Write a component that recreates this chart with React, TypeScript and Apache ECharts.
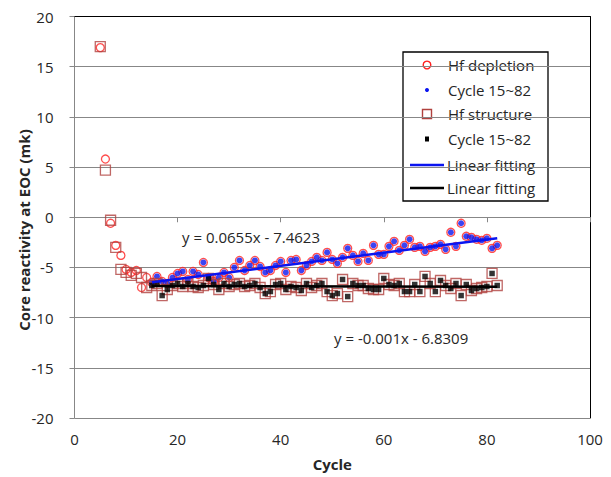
import React, { useEffect, useRef } from "react";
import * as echarts from "echarts";

// ---- data ----
const cycles = [
  5, 6, 7, 8, 9, 10, 11, 12, 13, 14, 15, 16, 17, 18, 19, 20, 21, 22, 23, 24,
  25, 26, 27, 28, 29, 30, 31, 32, 33, 34, 35, 36, 37, 38, 39, 40, 41, 42, 43, 44,
  45, 46, 47, 48, 49, 50, 51, 52, 53, 54, 55, 56, 57, 58, 59, 60, 61, 62, 63, 64,
  65, 66, 67, 68, 69, 70, 71, 72, 73, 74, 75, 76, 77, 78, 79, 80, 81, 82,
];
const hfDepletion = [
  16.9, 5.8, -0.6, -2.8, -3.8, -5.2, -5.5, -5.3, -7.0, -6.0, -6.5, -5.9, -6.4, -6.6, -6.0, -5.6, -5.4, -6.2, -5.4, -5.7,
  -4.5, -6.0, -6.4, -6.0, -5.5, -6.0, -5.0, -4.3, -5.3, -4.8, -4.3, -4.9, -5.5, -5.3, -4.8, -4.4, -5.5, -4.3, -4.2, -5.3,
  -4.8, -4.4, -4.0, -4.3, -3.5, -4.2, -4.6, -4.0, -3.1, -3.8, -4.4, -3.6, -4.3, -2.8, -3.7, -3.7, -2.9, -2.4, -3.3, -2.8,
  -2.2, -3.0, -2.9, -3.4, -3.0, -2.9, -2.7, -3.2, -1.5, -2.9, -0.6, -1.9, -2.0, -2.2, -2.3, -2.1, -3.1, -2.8,
];
const hfStructure = [
  17.0, 4.7, -0.3, -3.0, -5.2, -5.5, -5.8, -5.6, -6.0, -7.0, -6.8, -6.6, -7.8, -7.2, -6.8, -6.6, -6.9, -6.6, -6.9, -7.0,
  -6.8, -6.1, -6.7, -7.2, -6.6, -6.9, -6.7, -6.6, -6.9, -6.8, -6.6, -7.0, -7.6, -7.4, -6.7, -6.6, -7.2, -6.9, -7.0, -7.3,
  -6.6, -7.0, -6.8, -6.6, -7.4, -7.8, -7.6, -6.2, -7.9, -6.6, -6.8, -6.8, -7.1, -7.2, -7.2, -6.1, -6.7, -6.8, -6.6, -7.4,
  -7.4, -6.7, -7.4, -5.9, -6.6, -7.4, -6.3, -6.8, -7.1, -6.6, -7.8, -6.7, -7.3, -7.1, -7.0, -6.9, -5.6, -6.8,
];
const fitRange = [15, 82];
const fitSlopes = [0.0655, -0.001];
const fitIntercepts = [-7.4623, -6.8309];
const fitLabels = ["y = 0.0655x - 7.4623", "y = -0.001x - 6.8309"];
const legendLabels = [
  "Hf depletion",
  "Cycle 15~82",
  "Hf structure",
  "Cycle 15~82",
  "Linear fitting",
  "Linear fitting",
];
const xTickLabels = ["0", "20", "40", "60", "80", "100"];
const yTickLabels = ["-20", "-15", "-10", "-5", "0", "5", "10", "15", "20"];

const FONT = '"Open Sans", "Liberation Sans", sans-serif';
const TEXT = "#262626";
const AXIS = "#878787";
const RED = "#FF2020";
const BROWN = "#B0413E";
const BLUE = "#0A14F0";
const FS = 15;

export default function App() {
  const ref = useRef<HTMLDivElement>(null);

  useEffect(() => {
    if (!ref.current) return;
    const chart = echarts.init(ref.current, null, { renderer: "svg" });

    const depletionPts = cycles.map((c, i) => [c, hfDepletion[i]]);
    const structurePts = cycles.map((c, i) => [c, hfStructure[i]]);
    const depletionFit = depletionPts.filter((p) => p[0] >= fitRange[0] && p[0] <= fitRange[1]);
    const structureFit = structurePts.filter((p) => p[0] >= fitRange[0] && p[0] <= fitRange[1]);
    const fitLine = (k: number) =>
      fitRange.map((x) => [x, fitSlopes[k] * x + fitIntercepts[k]]);

    const xMin = Number(xTickLabels[0]);
    const xMax = Number(xTickLabels[xTickLabels.length - 1]);
    const yMin = Number(yTickLabels[0]);
    const yMax = Number(yTickLabels[yTickLabels.length - 1]);

    // legend (drawn as graphic)
    const lx = 403;
    const ly = 52;
    const rowY = [13, 38, 62, 87, 113, 136];
    const iconX = 24;
    const textX = 45;
    const legendChildren: any[] = [
      {
        type: "rect",
        shape: { x: 0, y: 0, width: 145, height: 149 },
        style: { fill: "#fff", stroke: "#000", lineWidth: 1.3 },
      },
      {
        type: "circle",
        shape: { cx: iconX, cy: rowY[0], r: 3.8 },
        style: { fill: "#fff", stroke: RED, lineWidth: 1.4 },
      },
      {
        type: "circle",
        shape: { cx: iconX, cy: rowY[1], r: 2 },
        style: { fill: BLUE },
      },
      {
        type: "rect",
        shape: { x: iconX - 4.5, y: rowY[2] - 4.5, width: 9, height: 9 },
        style: { fill: "#fff", stroke: BROWN, lineWidth: 1.4 },
      },
      {
        type: "rect",
        shape: { x: iconX - 2, y: rowY[3] - 2.5, width: 4, height: 5 },
        style: { fill: "#000" },
      },
      {
        type: "line",
        shape: { x1: 7, y1: rowY[4], x2: 41, y2: rowY[4] },
        style: { stroke: BLUE, lineWidth: 2.5 },
      },
      {
        type: "line",
        shape: { x1: 7, y1: rowY[5], x2: 41, y2: rowY[5] },
        style: { stroke: "#000", lineWidth: 2.5 },
      },
    ];
    legendLabels.forEach((t, i) => {
      legendChildren.push({
        type: "text",
        x: i >= 4 ? textX - 1 : textX,
        y: rowY[i],
        style: {
          text: t,
          fill: TEXT,
          fontSize: FS,
          fontFamily: FONT,
          align: "left",
          verticalAlign: "middle",
        },
      });
    });

    const option: any = {
      animation: false,
      backgroundColor: "#fff",
      grid: { left: 74.5, top: 16.5, right: 21, bottom: 59, containLabel: false },
      xAxis: [
        {
          type: "value",
          min: xMin,
          max: xMax,
          interval: 20,
          name: "Cycle",
          nameLocation: "middle",
          nameGap: 38,
          nameTextStyle: { fontFamily: FONT, fontSize: FS, fontWeight: "bold", color: TEXT },
          axisLine: { show: true, lineStyle: { color: AXIS, width: 1 } },
          axisTick: { show: true, length: 5, lineStyle: { color: AXIS } },
          axisLabel: { margin: 13, fontFamily: FONT, fontSize: FS, color: TEXT },
          splitLine: { show: false },
        },
        {
          type: "value",
          position: "top",
          min: xMin,
          max: xMax,
          interval: 20,
          axisLine: { show: true, onZero: false, lineStyle: { color: "#000", width: 1 } },
          axisTick: { show: false },
          axisLabel: { show: false },
          splitLine: { show: false },
        },
      ],
      yAxis: [
        {
          type: "value",
          min: yMin,
          max: yMax,
          interval: 5,
          axisLine: { show: true, onZero: false, lineStyle: { color: AXIS, width: 1 } },
          axisTick: { show: true, length: 5, lineStyle: { color: AXIS } },
          axisLabel: { margin: 21, fontFamily: FONT, fontSize: FS, color: TEXT },
          splitLine: { show: true, lineStyle: { color: AXIS, width: 1 } },
        },
        {
          type: "value",
          position: "right",
          min: yMin,
          max: yMax,
          interval: 5,
          axisLine: { show: true, onZero: false, lineStyle: { color: "#000", width: 1 } },
          axisTick: { show: false },
          axisLabel: { show: false },
          splitLine: { show: false },
        },
      ],
      series: [
        {
          name: "Hf depletion",
          type: "scatter",
          data: depletionPts,
          symbol: "circle",
          symbolSize: 8,
          itemStyle: { color: "rgba(255,255,255,0)", borderColor: RED, borderWidth: 1.3 },
          z: 2,
        },
        {
          name: "Cycle 15~82",
          type: "scatter",
          data: depletionFit,
          symbol: "circle",
          symbolSize: 6,
          itemStyle: { color: BLUE },
          z: 3,
        },
        {
          name: "Hf structure",
          type: "scatter",
          data: structurePts,
          symbol: "rect",
          symbolSize: 10,
          itemStyle: { color: "rgba(255,255,255,0)", borderColor: BROWN, borderWidth: 1.3 },
          z: 4,
        },
        {
          name: "Cycle 15~82 ",
          type: "scatter",
          data: structureFit,
          symbol: "rect",
          symbolSize: 5.5,
          itemStyle: { color: "#000" },
          z: 5,
        },
        {
          name: "Linear fitting",
          type: "line",
          data: fitLine(0),
          showSymbol: false,
          symbol: "none",
          lineStyle: { color: BLUE, width: 2.5 },
          z: 6,
        },
        {
          name: "Linear fitting ",
          type: "line",
          data: fitLine(1),
          showSymbol: false,
          symbol: "none",
          lineStyle: { color: "#000", width: 2.5 },
          z: 6,
        },
      ],
      graphic: [
        {
          type: "text",
          x: 24,
          y: 230,
          rotation: Math.PI / 2,
          style: {
            text: "Core reactivity at EOC (mk)",
            fill: TEXT,
            fontSize: FS,
            fontWeight: "bold",
            fontFamily: FONT,
            align: "center",
            verticalAlign: "middle",
          },
        },
        {
          type: "text",
          x: 182,
          y: 237,
          style: {
            text: fitLabels[0],
            fill: TEXT,
            fontSize: FS,
            fontFamily: FONT,
            align: "left",
            verticalAlign: "middle",
          },
          z: 10,
        },
        {
          type: "text",
          x: 334,
          y: 338,
          style: {
            text: fitLabels[1],
            fill: TEXT,
            fontSize: FS,
            fontFamily: FONT,
            align: "left",
            verticalAlign: "middle",
          },
          z: 10,
        },
        {
          type: "group",
          x: lx,
          y: ly,
          z: 20,
          children: legendChildren,
        },
      ],
    };

    chart.setOption(option);
    return () => chart.dispose();
  }, []);

  return (
    <div
      ref={ref}
      style={{ position: "fixed", left: 0, top: 0, width: 611, height: 477, background: "#fff" }}
    />
  );
}
